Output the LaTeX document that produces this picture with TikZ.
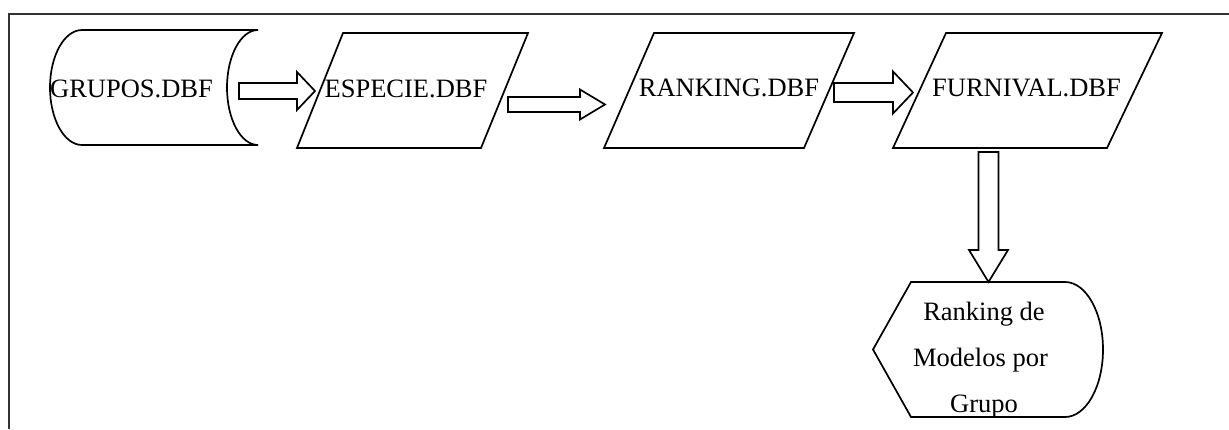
\documentclass[tikz,border=0pt]{standalone}
\usepackage{fontspec}
\setmainfont{Liberation Serif}
\newfontfamily\serifface{Liberation Serif}
\usetikzlibrary{calc}

\tikzset{
  shapeline/.style={draw=black, line width=1.7pt, line join=miter},
  textlabel/.style={inner sep=0pt, anchor=base,
    font=\serifface\fontsize{26.5}{46}\selectfont},
  % hollow block arrow: shaft half width, head half width, head length
  blockarrow/.style n args={3}{shapeline, fill=white,
    to path={
      let \p1=(\tikztostart), \p2=(\tikztotarget),
          \n1={atan2(\y2-\y1,\x2-\x1)},
          \n2={veclen(\x2-\x1,\y2-\y1)-#3} in
      ($(\p1)+(\n1+90:#1)$)
      -- ($(\p1)+(\n1:\n2)+(\n1+90:#1)$)
      -- ($(\p1)+(\n1:\n2)+(\n1+90:#2)$)
      -- (\p2)
      -- ($(\p1)+(\n1:\n2)+(\n1-90:#2)$)
      -- ($(\p1)+(\n1:\n2)+(\n1-90:#1)$)
      -- ($(\p1)+(\n1-90:#1)$)
      -- cycle
    }},
}

\begin{document}
\begin{tikzpicture}[x=1pt,y=1pt]
\useasboundingbox (0,0) rectangle (1229,-429);

% frame
\draw[black!80, line width=2pt] (9,-429) -- (9,-13.5) -- (1229,-13.5);

% stored data: GRUPOS.DBF
\draw[shapeline] (82,-30) -- (258,-30)
  arc[start angle=90, end angle=270, x radius=31, y radius=57.5]
  -- (82,-145)
  arc[start angle=270, end angle=90, x radius=32, y radius=57.5];
\node[textlabel] (grupos) at (131.5,-97) {GRUPOS.DBF};

% data files
\draw[shapeline] (343,-33) -- (528,-33) -- (481,-148) -- (297,-148) -- cycle;
\node[textlabel] (especie) at (406,-97) {ESPECIE.DBF};

\draw[shapeline] (654,-33) -- (854,-33) -- (804,-148) -- (604,-148) -- cycle;
\node[textlabel] (ranking) at (729,-96.5) {RANKING.DBF};

\draw[shapeline] (946,-33) -- (1162,-33) -- (1107,-148) -- (893,-148) -- cycle;
\node[textlabel] (furnival) at (1026.5,-96.7) {FURNIVAL.DBF};

% display: ranking result
\draw[shapeline] (911,-282) -- (1065,-282)
  arc[start angle=90, end angle=-90, x radius=38, y radius=67.5]
  -- (911,-417) -- (873,-349.5) -- cycle;
\node[textlabel, align=center] (result) at (984,-412)
  {Ranking de\\Modelos por\kern7pt\\Grupo};

% connector ends
\coordinate (grupos-out)   at (239,-91);
\coordinate (especie-in)   at (315,-91);
\coordinate (especie-out)  at (508,-104.5);
\coordinate (ranking-in)   at (605,-104.5);
\coordinate (ranking-out)  at (834,-92.5);
\coordinate (furnival-in)  at (913,-92.5);
\coordinate (furnival-out) at (988.5,-152);
\coordinate (result-in)    at (988.5,-282);

\draw[blockarrow={8}{19}{18}]     (grupos-out) to (especie-in);
\draw[blockarrow={7.5}{15}{25}]   (especie-out) to (ranking-in);
\draw[blockarrow={9.5}{21}{20}]   (ranking-out) to (furnival-in);
\draw[blockarrow={10}{19.5}{32}]  (furnival-out) to (result-in);
\end{tikzpicture}
\end{document}
